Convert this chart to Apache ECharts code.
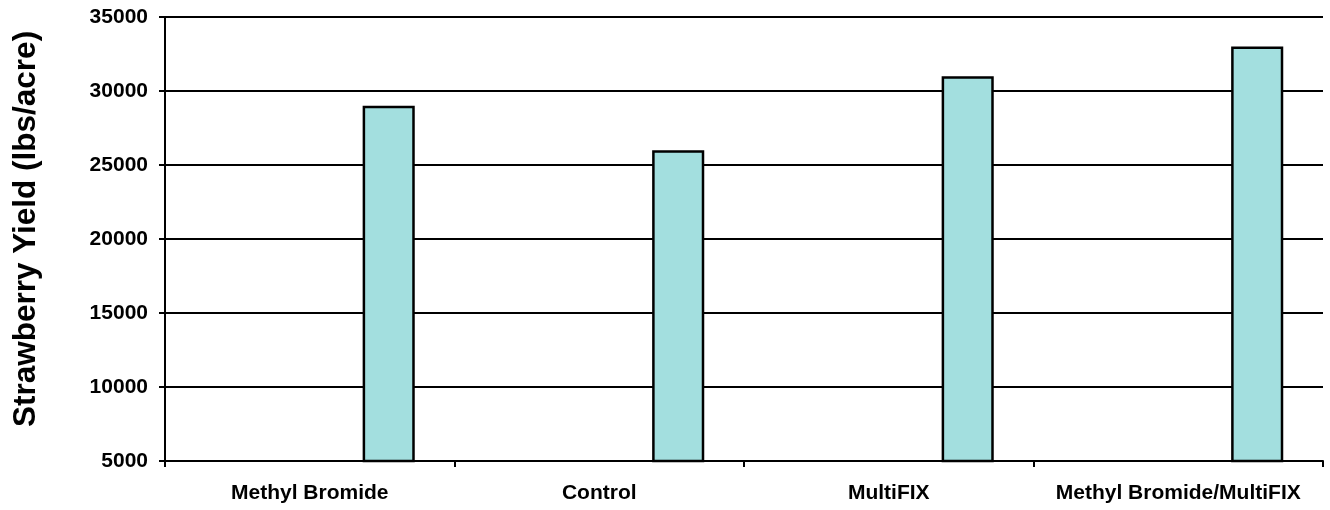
<!DOCTYPE html>
<html>
<head>
<meta charset="utf-8">
<script src="https://cdn.jsdelivr.net/npm/echarts@6/dist/echarts.min.js"></script>
<style>
html,body{margin:0;padding:0;background:#fff;}
#chart{width:1330px;height:510px;}
</style>
</head>
<body>
<div id="chart"></div>
<script>
var categories = ['Methyl Bromide', 'Control', 'MultiFIX', 'Methyl Bromide/MultiFIX'];
var emptySeries = [null, null, null, null];
var yieldValues = [29000, 26000, 31000, 33000];
var yAxisTitle = 'Strawberry Yield (lbs/acre)';
var yMin = 5000, yMax = 35000, yStep = 5000;

var chart = echarts.init(document.getElementById('chart'), null, {renderer: 'canvas'});
var font = 'Arial, "Liberation Sans", sans-serif';
chart.setOption({
  animation: false,
  backgroundColor: '#ffffff',
  grid: {left: 165, right: 7, top: 17, bottom: 49, containLabel: false},
  graphic: [{
    type: 'text',
    x: 26, y: 229,
    rotation: Math.PI / 2,
    style: {
      text: yAxisTitle,
      font: 'bold 31.5px ' + font,
      fill: '#000',
      textAlign: 'center',
      textVerticalAlign: 'middle'
    }
  }],
  xAxis: {
    type: 'category',
    data: categories,
    boundaryGap: true,
    axisLine: {lineStyle: {color: '#000', width: 2}},
    axisTick: {show: true, length: 6, lineStyle: {color: '#000', width: 2}, alignWithLabel: false},
    axisLabel: {color: '#000', fontWeight: 'bold', fontSize: 21, fontFamily: font, margin: 22, interval: 0},
    splitLine: {show: false}
  },
  yAxis: {
    type: 'value',
    min: yMin, max: yMax, interval: yStep,
    axisLine: {show: true, lineStyle: {color: '#000', width: 2}},
    axisTick: {show: true, length: 6, lineStyle: {color: '#000', width: 2}},
    axisLabel: {color: '#000', fontWeight: 'bold', fontSize: 21, fontFamily: font, margin: 17,
      formatter: function (v) { return String(v); }},
    splitLine: {show: true, lineStyle: {color: '#000', width: 2}}
  },
  series: [
    {
      name: 'Series 1',
      type: 'bar',
      data: emptySeries,
      barWidth: '18%',
      barGap: '203%'
    },
    {
      name: 'Yield',
      type: 'bar',
      data: yieldValues,
      barWidth: '18%',
      barGap: '203%',
      itemStyle: {color: '#a3dfdf', borderColor: '#000', borderWidth: 2.5}
    }
  ]
});
</script>
</body>
</html>
